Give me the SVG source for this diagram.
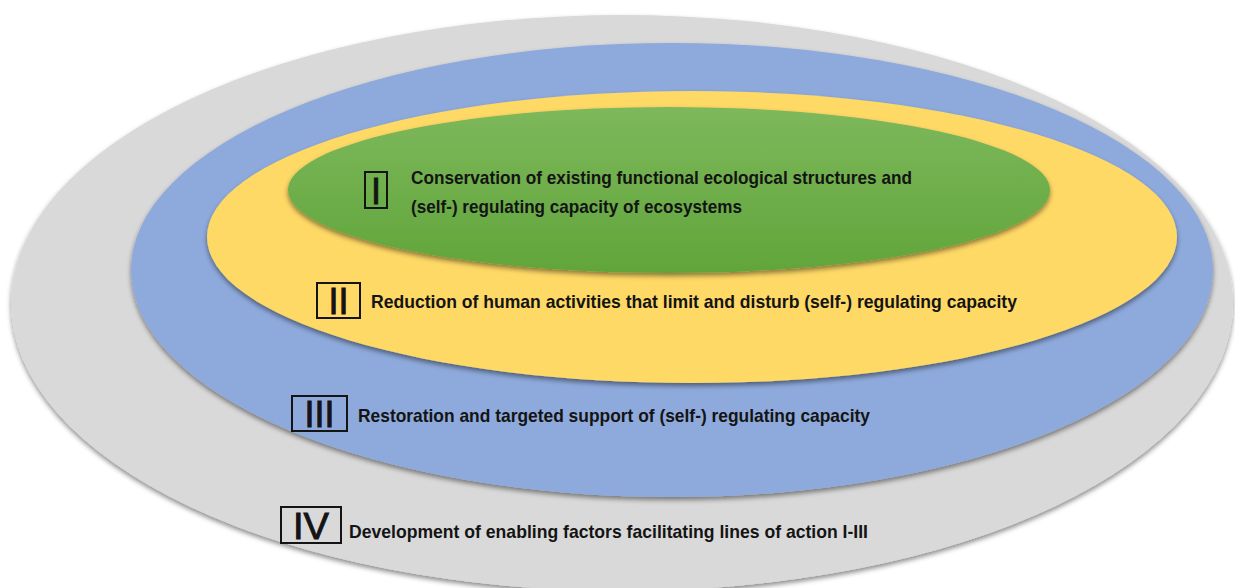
<svg xmlns="http://www.w3.org/2000/svg" width="1235" height="588" viewBox="0 0 1235 588">
  <defs>
    <filter id="sh" x="-5%" y="-5%" width="110%" height="115%">
      <feDropShadow dx="0" dy="3" stdDeviation="2.5" flood-color="#000" flood-opacity="0.45"/>
    </filter>
    <linearGradient id="gg" x1="0" y1="0" x2="0" y2="1">
      <stop offset="0" stop-color="#7db85c"/>
      <stop offset="1" stop-color="#61a53a"/>
    </linearGradient>
    <style>
      .t { font-family: "Liberation Sans Narrow", "Liberation Sans", Arial, sans-serif; font-weight: bold; font-size: 19px; fill: #141414; }
      .n { font-family: "Liberation Sans Narrow", "Liberation Sans", Arial, sans-serif; font-weight: normal; font-size: 36px; fill: #141414; stroke: #141414; stroke-width: 0.9; }
      .b { fill: none; stroke: #141414; stroke-width: 2; }
    </style>
  </defs>
  <rect width="1235" height="588" fill="#ffffff"/>

  <g id="level-IV">
    <ellipse cx="622" cy="303" rx="611" ry="288" fill="#d9d9d9" filter="url(#sh)"/>
  </g>
  <g id="level-III">
    <ellipse cx="672" cy="270" rx="541" ry="227" fill="#8eaadc" filter="url(#sh)"/>
  </g>
  <g id="level-II">
    <ellipse cx="692" cy="237" rx="485" ry="146" fill="#ffd966" filter="url(#sh)"/>
  </g>
  <g id="level-I">
    <ellipse cx="669" cy="190" rx="381" ry="83" fill="url(#gg)" filter="url(#sh)"/>
  </g>

  <g id="label-I">
    <rect class="b" x="365" y="172" width="22" height="36"/>
    <text class="n" x="376" y="204" text-anchor="middle">I</text>
    <text class="t" x="411" y="184" textLength="501" lengthAdjust="spacingAndGlyphs">Conservation  of existing functional  ecological structures  and</text>
    <text class="t" x="411" y="213" textLength="331" lengthAdjust="spacingAndGlyphs">(self-) regulating  capacity of ecosystems</text>
  </g>
  <g id="label-II">
    <rect class="b" x="317" y="283" width="43" height="35"/>
    <text class="n" x="338.5" y="314" text-anchor="middle" textLength="20" lengthAdjust="spacingAndGlyphs">II</text>
    <text class="t" x="371" y="308" textLength="646" lengthAdjust="spacingAndGlyphs">Reduction of human activities that limit and disturb (self-) regulating capacity</text>
  </g>
  <g id="label-III">
    <rect class="b" x="292" y="396" width="55" height="35"/>
    <text class="n" x="319.5" y="427" text-anchor="middle" textLength="30" lengthAdjust="spacingAndGlyphs">III</text>
    <text class="t" x="358" y="422" textLength="512" lengthAdjust="spacingAndGlyphs">Restoration and targeted support  of (self-) regulating  capacity</text>
  </g>
  <g id="label-IV">
    <rect class="b" x="281" y="507" width="60" height="36"/>
    <text class="n" x="311" y="539" text-anchor="middle" textLength="36" lengthAdjust="spacingAndGlyphs">IV</text>
    <text class="t" x="349" y="538" textLength="519" lengthAdjust="spacingAndGlyphs">Development of enabling  factors facilitating  lines of action  I-III</text>
  </g>
  <g id="connectors"/>
</svg>
